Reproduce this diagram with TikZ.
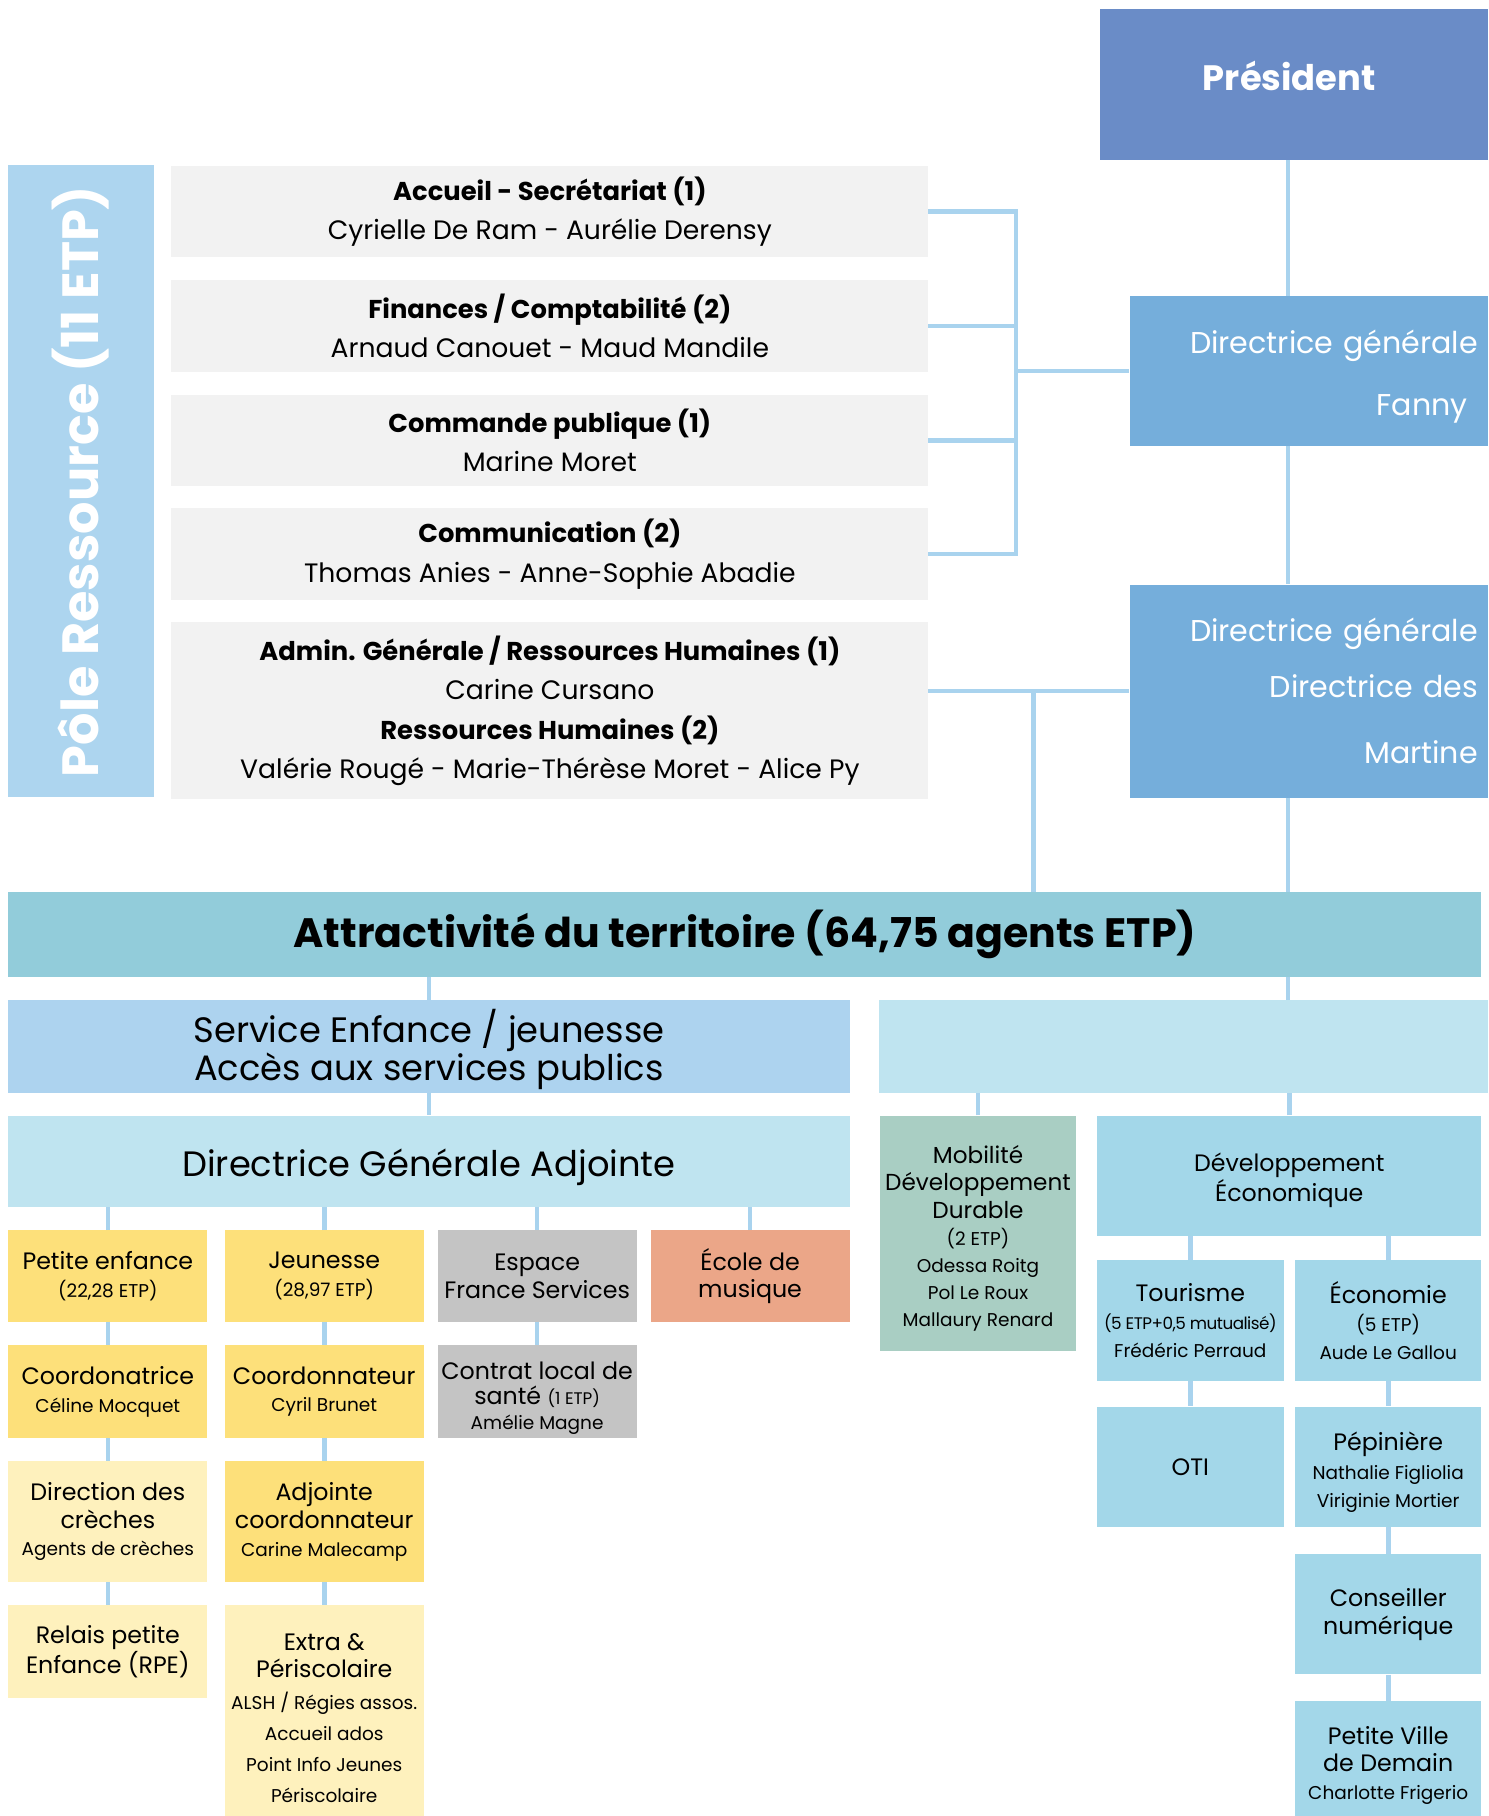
\documentclass[tikz,border=0pt]{standalone}
\usepackage{fontspec}
\setmainfont{Poppins}
\usetikzlibrary{positioning}

\definecolor{presblue}{HTML}{6A8CC7}
\definecolor{dgblue}{HTML}{75AEDB}
\definecolor{poleblue}{HTML}{ADD5EF}
\definecolor{greybox}{HTML}{F2F2F2}
\definecolor{linkblue}{HTML}{A9D3EE}
\definecolor{attrteal}{HTML}{92CCDA}
\definecolor{servblue}{HTML}{ADD3EF}
\definecolor{paleblue}{HTML}{BFE4F0}
\definecolor{yellowbox}{HTML}{FDE07A}
\definecolor{paleyellow}{HTML}{FEF1BD}
\definecolor{greytwo}{HTML}{C4C4C4}
\definecolor{salmon}{HTML}{EBA688}
\definecolor{greenbox}{HTML}{A9CEC3}
\definecolor{devblue}{HTML}{A3D7E9}

\newcommand{\boxfont}{\fontsize{20.5}{24}\selectfont}
\newcommand{\subfont}{\fontsize{16}{24}\selectfont}
\newcommand{\greyfont}{\fontsize{23}{34}\selectfont}
\newcommand{\greyhead}[1]{{\fontsize{22.3}{34}\selectfont\bfseries #1}}
\newcommand{\servfont}{\fontsize{30.5}{33}\selectfont}
\newcommand{\dgfont}{\fontsize{26}{30}\selectfont}

\begin{document}
\begin{tikzpicture}[x=1pt, y=-1pt,
  cell/.style 2 args={rectangle, inner sep=0pt, anchor=north west, minimum width=#1, minimum height=#2, align=center, font=\boxfont},
  link/.style={draw=linkblue, line width=4pt}]
  \useasboundingbox (0,0) rectangle (1286,1569.4);

  % direction
  \node[cell={336}{130}, fill=presblue, text=white, font=\fontsize{30.5}{34}\selectfont\bfseries] (pres) at (950,8) {\raisebox{-5pt}[0pt][0pt]{Président\hspace*{8pt}}};
  \node[cell={310}{129}, fill=dgblue, text=white, font=\dgfont, inner xsep=9, text width=292, align=right] (dg1) at (976,256) {\rule{0pt}{30pt}Directrice générale\\[24pt]Fanny\hspace*{9pt}};
  \node[cell={310}{184}, fill=dgblue, text=white, font=\dgfont, inner xsep=9, text width=292, align=right] (dg2) at (976,505) {Directrice générale\\[18pt]Directrice des\\[27pt]Martine};

  % pole ressource
  \node[rotate=90, fill=poleblue, minimum width=546, minimum height=126, inner sep=0pt, text=white, font=\fontsize{44}{50}\selectfont\bfseries] (pole) at (70,416) {Pôle Ressource (11 ETP)};
  \node[cell={654}{79}, fill=greybox, font=\greyfont] (accueil) at (148,143) {\greyhead{Accueil - Secrétariat (1)}\\Cyrielle De Ram - Aurélie Derensy};
  \node[cell={654}{80}, fill=greybox, font=\greyfont, below=19pt of accueil] (finances) {\greyhead{Finances / Comptabilité (2)}\\Arnaud Canouet - Maud Mandile};
  \node[cell={654}{79}, fill=greybox, font=\greyfont, below=19pt of finances] (commande) {\greyhead{Commande publique (1)}\\Marine Moret};
  \node[cell={654}{79}, fill=greybox, font=\greyfont, below=19pt of commande] (comm) {\greyhead{Communication (2)}\\Thomas Anies - Anne-Sophie Abadie};
  \node[cell={654}{153}, fill=greybox, font=\greyfont, below=19pt of comm] (adm) {\greyhead{Admin. Générale / Ressources Humaines (1)}\\Carine Cursano\\\greyhead{Ressources Humaines (2)}\\Valérie Rougé - Marie-Thérèse Moret - Alice Py};

  % attractivite
  \node[cell={1273}{73}, fill=attrteal, font=\fontsize{35.5}{40}\selectfont\bfseries] (attr) at (7,771) {Attractivité du territoire (64,75 agents ETP)};
  \node[cell={727}{80}, fill=servblue, font=\servfont] (serv) at (7,864) {\rule{0pt}{34pt}Service Enfance / jeunesse\\Accès aux services publics};
  \node[cell={527}{80}, fill=paleblue] (empty) at (759,864) {};
  \node[cell={727}{79}, fill=paleblue, font=\servfont] (dga) at (7,964) {\raisebox{-13pt}[0pt][0pt]{Directrice Générale Adjointe}};

  % enfance / jeunesse
  \node[cell={172}{79}, fill=yellowbox] (pe) at (7,1063) {Petite enfance\\{\subfont (22,28 ETP)}};
  \node[cell={172}{79}, fill=yellowbox] (jeu) at (194,1063) {Jeunesse\\{\subfont (28,97 ETP)}};
  \node[cell={172}{79}, fill=greytwo] (efs) at (378,1063) {Espace\\France Services};
  \node[cell={172}{79}, fill=salmon] (ecole) at (562,1063) {École de\\musique};
  \node[cell={172}{80}, fill=yellowbox, below=20pt of pe] (coordf) {Coordonatrice\\{\subfont Céline Mocquet}};
  \node[cell={172}{80}, fill=yellowbox, below=20pt of jeu] (coordm) {Coordonnateur\\{\subfont Cyril Brunet}};
  \node[cell={172}{80}, fill=greytwo, font=\fontsize{20.5}{21.5}\selectfont, below=20pt of efs] (cls) {\rule{0pt}{26pt}Contrat local de\\santé {\fontsize{14.5}{21.5}\selectfont(1 ETP)}\\{\subfont Amélie Magne}};
  \node[cell={172}{104}, fill=paleyellow, below=20pt of coordf] (creche) {Direction des\\crèches\\{\subfont Agents de crèches}};
  \node[cell={172}{104}, fill=yellowbox, below=20pt of coordm] (adj) {Adjointe\\coordonnateur\\{\subfont Carine Malecamp}};
  \node[cell={172}{80}, fill=paleyellow, below=20pt of creche] (rpe) {Relais petite\\Enfance (RPE)};
  \node[cell={172}{195}, fill=paleyellow, below=20pt of adj] (extra) {Extra \&\\Périscolaire\\[3pt]{\subfont ALSH / Régies assos.}\\[3pt]{\subfont Accueil ados}\\[3pt]{\subfont Point Info Jeunes}\\[3pt]{\subfont Périscolaire}};

  % territoire
  \node[cell={170}{203}, fill=greenbox, font=\fontsize{20}{23.5}\selectfont] (mob) at (760,964) {\rule{0pt}{25pt}Mobilité\\Développement\\Durable\\{\fontsize{16}{22}\selectfont (2 ETP)}\\{\fontsize{16}{23}\selectfont Odessa Roitg}\\{\fontsize{16}{23}\selectfont Pol Le Roux}\\{\fontsize{16}{23}\selectfont Mallaury Renard}};
  \node[cell={332}{104}, fill=devblue] (dev) at (948,964) {\rule{0pt}{24pt}Développement\\[1pt]Économique};
  \node[cell={161}{104}, fill=devblue] (tour) at (948,1089) {Tourisme\\{\fontsize{14.5}{24}\selectfont\addfontfeature{LetterSpace=-3}(5 ETP+0,5 mutualisé)}\\{\subfont Frédéric Perraud}};
  \node[cell={161}{104}, fill=devblue] (eco) at (1119,1089) {Économie\\{\subfont (5 ETP)}\\{\subfont Aude Le Gallou}};
  \node[cell={161}{104}, fill=devblue, below=22pt of tour] (oti) {OTI};
  \node[cell={161}{104}, fill=devblue, below=22pt of eco] (pep) {\rule{0pt}{26pt}Pépinière\\[1pt]{\subfont Nathalie Figliolia}\\{\subfont Viriginie Mortier}};
  \node[cell={161}{104}, fill=devblue, below=23pt of pep] (cons) {Conseiller\\numérique};
  \node[cell={161}{100}, fill=devblue, below=23pt of cons] (pvd) {\rule{0pt}{26pt}Petite Ville\\de Demain\\{\subfont Charlotte Frigerio}};

  % liens
  \coordinate (spine) at (1113,0);
  \coordinate (bus) at (878,0);
  \coordinate (drop) at (893,0);
  \draw[link] (pres.south -| spine) -- (dg1.north -| spine);
  \draw[link] (dg1.south -| spine) -- (dg2.north -| spine);
  \draw[link] (dg2.south -| spine) -- (attr.north -| spine);
  \draw[link] (accueil.east) -- (accueil.east -| bus) -- (comm.east -| bus) -- (comm.east);
  \draw[link] (finances.east) -- (finances.east -| bus);
  \draw[link] (commande.east) -- (commande.east -| bus);
  \draw[link] (bus |- dg1.west) -- (dg1.west);
  \draw[link] (adm.east |- dg2.west) -- (dg2.west);
  \draw[link] (drop |- dg2.west) -- (drop |- attr.north);
  \draw[link] (serv.north) -- (serv.north |- attr.south);
  \draw[link] (empty.north -| spine) -- (attr.south -| spine);
  \draw[link] (serv.south) -- (dga.north);
  \draw[link] (mob.north) -- (mob.north |- empty.south);
  \draw[link] (dev.north) -- (dev.north |- empty.south);
  \foreach \col in {pe, jeu, efs, ecole}
    \draw[link] (\col.north) -- (\col.north |- dga.south);
  \draw[link] (pe.south) -- (coordf.north);
  \draw[link] (coordf.south) -- (creche.north);
  \draw[link] (creche.south) -- (rpe.north);
  \draw[link] (jeu.south) -- (coordm.north);
  \draw[link] (coordm.south) -- (adj.north);
  \draw[link] (adj.south) -- (extra.north);
  \draw[link] (efs.south) -- (cls.north);
  \draw[link] (tour.north) -- (tour.north |- dev.south);
  \draw[link] (eco.north) -- (eco.north |- dev.south);
  \draw[link] (tour.south) -- (oti.north);
  \draw[link] (eco.south) -- (pep.north);
  \draw[link] (pep.south) -- (cons.north);
  \draw[link] (cons.south) -- (pvd.north);
\end{tikzpicture}
\end{document}
